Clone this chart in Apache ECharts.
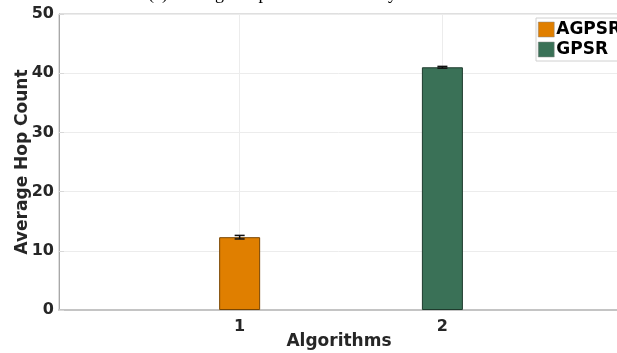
<!DOCTYPE html>
<html>
<head>
<meta charset="utf-8">
<script src="https://cdn.jsdelivr.net/npm/echarts@6/dist/echarts.min.js"></script>
<style>html,body{margin:0;padding:0;background:#fff}#c{width:617px;height:353px}</style>
</head>
<body>
<div id="c"></div>
<script>
const categories = [1, 2];
const seriesNames = ['AGPSR', 'GPSR'];
const values = [12.3, 41.0];
const errors = [0.3, 0.15];
const yTicks = [0, 10, 20, 30, 40, 50];
const colors = ['#E07F00', '#3A7157'];
const borders = ['#7A4500', '#1E3B2D'];

const chart = echarts.init(document.getElementById('c'), null, {renderer: 'canvas'});
const font = 'DejaVu Sans';

const series = [];
seriesNames.forEach((name, i) => {
  series.push({
    name: name,
    type: 'bar',
    stack: 'one',
    barWidth: 41,
    data: [[categories[i], values[i]]],
    itemStyle: {color: colors[i], borderColor: borders[i], borderWidth: 1},
    z: 2
  });
});
series.push({
  type: 'custom',
  renderItem: function (params, api) {
    const x = api.value(0), lo = api.value(1), hi = api.value(2);
    const p1 = api.coord([x, lo]), p2 = api.coord([x, hi]);
    const w = 5;
    const st = {stroke: '#111', lineWidth: 1.5};
    return {type: 'group', children: [
      {type: 'line', shape: {x1: p1[0], y1: p1[1], x2: p2[0], y2: p2[1]}, style: st},
      {type: 'line', shape: {x1: p1[0]-w, y1: p1[1], x2: p1[0]+w, y2: p1[1]}, style: st},
      {type: 'line', shape: {x1: p2[0]-w, y1: p2[1], x2: p2[0]+w, y2: p2[1]}, style: st}
    ]};
  },
  data: categories.map((c, i) => [c, values[i] - errors[i], values[i] + errors[i]]),
  z: 5,
  silent: true
});

chart.setOption({
  animation: false,
  backgroundColor: '#fff',
  graphic: [
    {
      type: 'text', left: 148, top: -15, silent: true,
      style: {text: '(a) Average Hop Count vs Density', font: 'normal 18px "Liberation Serif"', fill: '#000'}
    },
    {
      type: 'text', x: 23, y: 162, rotation: Math.PI / 2, silent: true,
      style: {text: 'Average Hop Count', font: 'bold 17px "DejaVu Sans"', fill: '#262626', align: 'center', verticalAlign: 'middle'}
    }
  ],
  legend: {
    data: seriesNames,
    orient: 'vertical',
    left: 536, top: 18,
    itemWidth: 16, itemHeight: 15, itemGap: 3,
    padding: [3, 10, 3, 2],
    borderColor: '#d0d0d0', borderWidth: 1,
    backgroundColor: '#fff',
    icon: 'rect',
    itemStyle: {borderColor: '#888', borderWidth: 0.5},
    textStyle: {fontFamily: font, fontWeight: 'bold', fontSize: 17, color: '#000', padding: [0,0,0,-3]}
  },
  grid: {left: 59, right: -2, top: 14, bottom: 43, show: true, borderColor: '#bfbfbf', borderWidth: 1, outerBoundsMode: 'none', containLabel: false},
  xAxis: {
    type: 'value',
    min: 0.109, max: 2.871,
    minInterval: 1,
    name: 'Algorithms',
    nameLocation: 'middle', nameGap: 23, nameMoveOverlap: false,
    nameTextStyle: {fontFamily: font, fontWeight: 'bold', fontSize: 17, color: '#262626'},
    axisLine: {show: true, lineStyle: {color: '#c4c4c4', width: 2}},
    axisTick: {show: true, inside: true, length: 5, lineStyle: {color: '#8a5a20'}},
    axisLabel: {showMinLabel: false, showMaxLabel: false, fontFamily: font, fontWeight: 'bold', fontSize: 16, color: '#262626', margin: 9},
    splitLine: {show: true, lineStyle: {color: '#ececec'}}
  },
  yAxis: {
    type: 'value',
    min: 0, max: 50, interval: 10,
    axisLine: {show: true, lineStyle: {color: '#a8a8a8', width: 1}},
    axisTick: {show: true, inside: true, length: 5, lineStyle: {color: '#d8d8d8'}},
    axisLabel: {fontFamily: font, fontWeight: 'bold', fontSize: 16, color: '#262626', margin: 5},
    splitLine: {show: true, lineStyle: {color: '#ececec'}}
  },
  series: series
});
</script>
</body>
</html>
